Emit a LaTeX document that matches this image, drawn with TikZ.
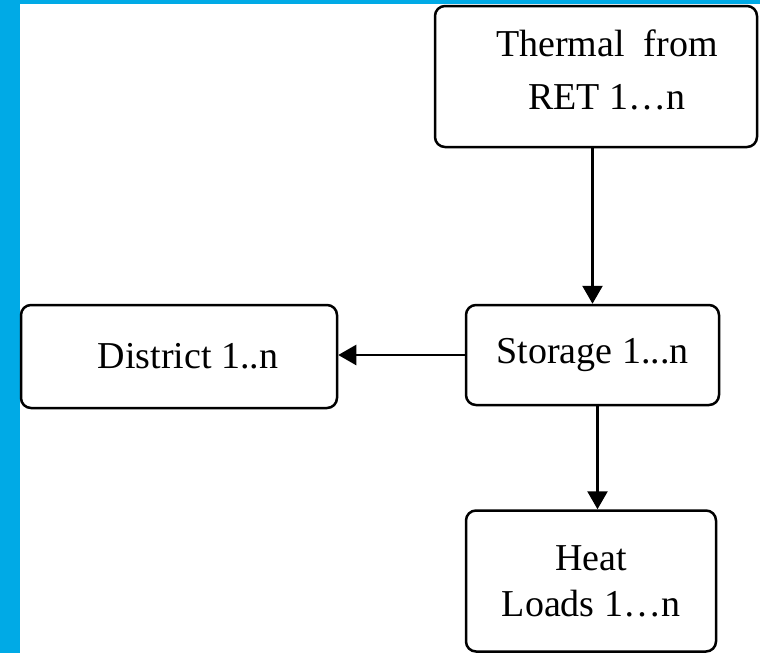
\documentclass[tikz,border=0pt]{standalone}
\usepackage{fontspec}
\setmainfont{Liberation Serif}
\usetikzlibrary{arrows.meta}
\definecolor{frameblue}{RGB}{0,170,230}

\begin{document}
\begin{tikzpicture}[x=1pt,y=-1pt,
  box/.style={draw, line width=2.5pt, rounded corners=10pt, fill=white,
    inner sep=0pt, align=center, font=\fontsize{38}{46}\selectfont},
  flow/.style={line width=2.5pt, -{Triangle[length=18pt,width=20pt]}}]

\useasboundingbox (0,0) rectangle (760,653);

%frame
\fill[frameblue] (0,0) rectangle (20,653);
\fill[frameblue] (0,0) rectangle (760,4);

\coordinate (T) at (596,76.5) {};
\coordinate (S) at (592.5,355) {};
\coordinate (D) at (179,356.5) {};
\coordinate (H) at (591,581) {};

%boxes
\node[box, minimum width=322pt, minimum height=141pt] (thermal) at (T) {};
\node[box, minimum width=253pt, minimum height=100pt] (storage)  at (S) {Storage 1...n};
\node[box, minimum width=316pt, minimum height=103pt] (district) at (D) {\hspace*{18pt}District 1..n};
\node[box, minimum width=250pt, minimum height=141pt] (heat)     at (H) {Heat\\Loads 1…n};

%labels
\node[align=center, font=\fontsize{38}{53}\selectfont] (thermaltext) at (607,70)
  {Thermal\ \ from\\RET 1…n};

%arrows
\draw[flow] (storage.north |- thermal.south) -- (storage.north);                 %T--S
\draw[flow] (storage.west) -- (storage.west -| district.east);                   %S--D
\draw[flow] ([xshift=5pt]storage.south) -- ([xshift=5pt]storage.south |- heat.north); %S--H

\end{tikzpicture}
\end{document}
